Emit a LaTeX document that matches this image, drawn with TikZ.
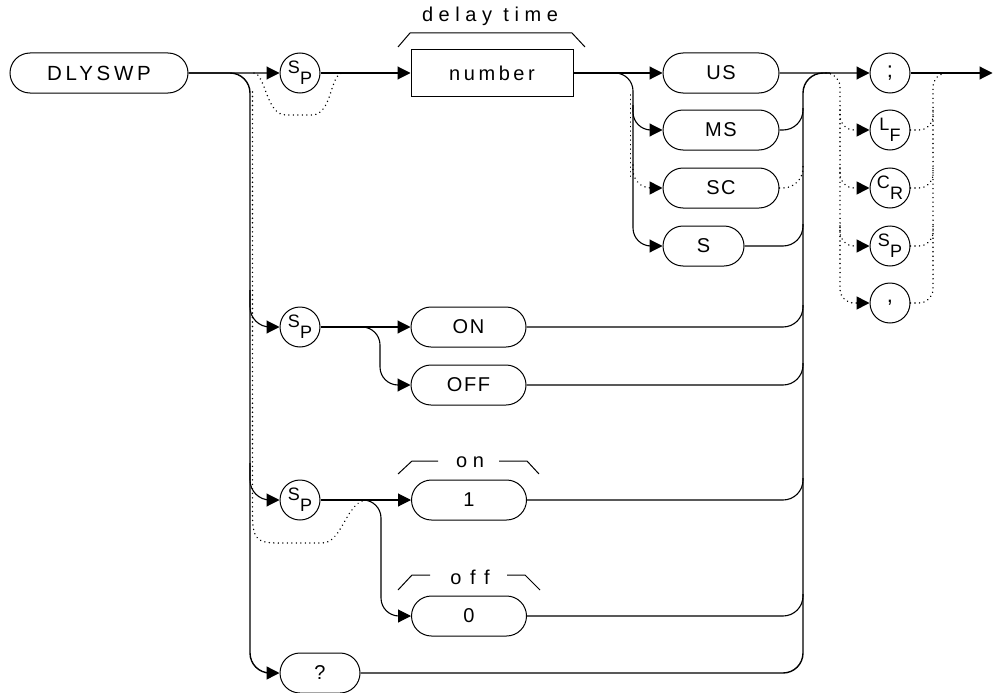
\documentclass[tikz,border=0pt]{standalone}
\usepackage{fontspec}
\setmainfont{Liberation Sans}
\newfontfamily\diagfont[LetterSpace=8]{Liberation Sans}
\newfontfamily\widefont[LetterSpace=18]{Liberation Sans}
\newfontfamily\widerfont[LetterSpace=28]{Liberation Sans}
\newfontfamily\widestfont[LetterSpace=44]{Liberation Sans}
\usetikzlibrary{arrows.meta,shapes.misc}
\newcommand\subsym[2]{\raisebox{5pt}{#1}\kern0.3pt\raisebox{-6pt}{#2}}
\tikzset{
  ln/.style={line width=1.1pt},
  trunk/.style={line width=1.4pt},
  arr/.style={-{Triangle[length=13pt,width=13pt]}},
  dotln/.style={line width=1.6pt, dash pattern=on 0.01pt off 4.5pt, line cap=round},
  pill/.style={draw, line width=1pt, rounded rectangle, minimum width=116pt, minimum height=40pt, inner sep=0pt, font=\diagfont\fontsize{20}{20}\selectfont},
  circ/.style={draw, line width=1pt, circle, minimum size=40pt, inner sep=0pt, font=\fontsize{18}{18}\selectfont},
  numbox/.style={draw, line width=1pt, rectangle, minimum width=162pt, minimum height=46pt, inner sep=0pt, font=\widefont\fontsize{20}{20}\selectfont},
  brk/.style={line width=1pt},
  lbl/.style={inner sep=0pt, font=\fontsize{20}{20}\selectfont}
}
\begin{document}
\begin{tikzpicture}[x=1pt,y=-1pt]
\useasboundingbox (0,0) rectangle (993,693);

% ---------- nodes ----------
\node[pill, minimum width=178pt, font=\widefont\fontsize{20.5}{20.5}\selectfont] (cmd) at (99,73) {DLYSWP};
\node[circ] (sp1) at (300,73) {\subsym{S}{P}};
\node[numbox] (num) at (492,73) {number};
\node[pill] (us) at (721,73) {US};
\node[pill] (ms) at (721,130) {MS};
\node[pill] (sc) at (721,188) {SC};
\node[pill, minimum width=81pt] (s) at (703.5,246) {S};

\node[circ, font=\fontsize{22}{22}\selectfont] (semi) at (890,73) {;};
\node[circ] (lf) at (890,130) {\subsym{L}{F}};
\node[circ] (cr) at (890,188) {\subsym{C}{R}};
\node[circ] (sp5) at (890,246) {\subsym{S}{P}};
\node[circ, font=\fontsize{22}{22}\selectfont] (comma) at (890,303) {,};

\node[circ] (sp2) at (300,327) {\subsym{S}{P}};
\node[pill, minimum width=115pt] (on) at (468.5,327) {ON};
\node[pill, minimum width=115pt] (off) at (468.5,385) {OFF};

\node[circ] (sp3) at (300,500) {\subsym{S}{P}};
\node[pill, minimum width=115pt] (one) at (469,500) {1};
\node[pill, minimum width=115pt] (zero) at (469,616) {0};
\node[pill, minimum width=80pt] (q) at (320,673) {?};

% labels with brackets
\node[lbl, font=\widerfont\fontsize{20}{20}\selectfont] (ldelay) at (490,16) {delay time};
\draw[brk] (398,47) -- (410,33) -- (572,33) -- (585,47);
\node[lbl, font=\widerfont\fontsize{20}{20}\selectfont] (lon) at (470,462) {on};
\draw[brk] (398,474) -- (412,461) -- (438,461);
\draw[brk] (499,461) -- (527,461) -- (539,474);
\node[lbl, font=\widestfont\fontsize{20}{20}\selectfont] (loff) at (470,577) {off};
\draw[brk] (398,590) -- (412,575) -- (430,575);
\draw[brk] (507,575) -- (525,575) -- (540,590);

% ---------- coordinates ----------
\coordinate (tb) at (250,673);
\coordinate (t2) at (250,290);
\coordinate (t3) at (250,463);
\coordinate (d1a) at (254,73);
\coordinate (d1b) at (342,73);
\coordinate (d3b) at (365,500);
\coordinate (b2) at (600,73);
\coordinate (b2s) at (633,246);
\coordinate (b2m) at (633,105);
\coordinate (b2c) at (633,165);
\coordinate (b3) at (355,327);
\coordinate (b3o) at (380,385);
\coordinate (b4) at (358,500);
\coordinate (b4o) at (381,616);
\coordinate (m) at (803,73);
\coordinate (mE) at (830,73);
\coordinate (m1) at (803,108);
\coordinate (m2) at (803,166);
\coordinate (m3) at (803,224);
\coordinate (m4) at (803,305);
\coordinate (m5) at (803,363);
\coordinate (m6) at (803,478);
\coordinate (m7) at (803,594);
\coordinate (tl) at (826,73);
\coordinate (tlb) at (840,303);
\coordinate (tl1) at (840,110);
\coordinate (tl2) at (840,168);
\coordinate (tl3) at (840,226);
\coordinate (tr) at (933,73);
\coordinate (trE) at (955,73);
\coordinate (tr1) at (933,110);
\coordinate (tr2) at (933,168);
\coordinate (tr3) at (933,226);
\coordinate (fin) at (992.5,73);

% ---------- main trunk ----------
\draw[trunk,arr,rounded corners=20pt] (cmd.east) -| (tb) -- (q.west);
\draw[ln,arr] (cmd) -- (sp1);
\draw[ln,arr,rounded corners=20pt] (t2) |- (sp2.west);
\draw[ln,arr,rounded corners=20pt] (t3) |- (sp3.west);
\draw[dotln] (d1a) .. controls (266,75) and (266,115) .. (286,115) -- (312,115) .. controls (332,115) and (330,75) .. (d1b);
\draw[dotln] (252.5,92) -- (252.5,515) .. controls (252.5,540) and (258,543) .. (278,543) -- (322,543) .. controls (342,543) and (345,505) .. (d3b);

% ---------- row 1 ----------
\draw[ln,arr] (sp1) -- (num);
\draw[ln,arr] (num) -- (us);
\draw[ln,arr,rounded corners=18pt] (b2) -| (b2s) -- (s.west);
\draw[ln,arr,rounded corners=18pt] (b2m) |- (ms.west);
\draw[dotln,arr,rounded corners=18pt] (b2c) |- (sc.west);
\draw[dotln] (630.5,95) -- (630.5,180);

% ---------- merge ----------
\draw[ln,arr] (us) -- (semi);
\draw[trunk,rounded corners=20pt] (q.east) -| (m) -- (mE);
\draw[ln,rounded corners=20pt] (ms.east) -| (m1);
\draw[dotln,rounded corners=20pt] (sc.east) -| (m2);
\draw[ln,rounded corners=20pt] (s.east) -| (m3);
\draw[ln,rounded corners=20pt] (on.east) -| (m4);
\draw[ln,rounded corners=20pt] (off.east) -| (m5);
\draw[ln,rounded corners=20pt] (one.east) -| (m6);
\draw[ln,rounded corners=20pt] (zero.east) -| (m7);

% ---------- terminators ----------
\draw[ln,arr] (semi) -- (fin);
\draw[dotln,arr,rounded corners=14pt] (tl) -| (tlb) -- (comma.west);
\draw[dotln,arr,rounded corners=14pt] (tl1) |- (lf.west);
\draw[dotln,arr,rounded corners=14pt] (tl2) |- (cr.west);
\draw[dotln,arr,rounded corners=14pt] (tl3) |- (sp5.west);
\draw[dotln,rounded corners=14pt] (comma.east) -| (tr) -- (trE);
\draw[dotln,rounded corners=14pt] (lf.east) -| (tr1);
\draw[dotln,rounded corners=14pt] (cr.east) -| (tr2);
\draw[dotln,rounded corners=14pt] (sp5.east) -| (tr3);

% ---------- rows 2 and 3 ----------
\draw[ln,arr] (sp2) -- (on);
\draw[ln,arr,rounded corners=18pt] (b3) -| (b3o) -- (off.west);
\draw[ln,arr] (sp3) -- (one);
\draw[ln,arr,rounded corners=18pt] (b4) -| (b4o) -- (zero.west);
\end{tikzpicture}
\end{document}
